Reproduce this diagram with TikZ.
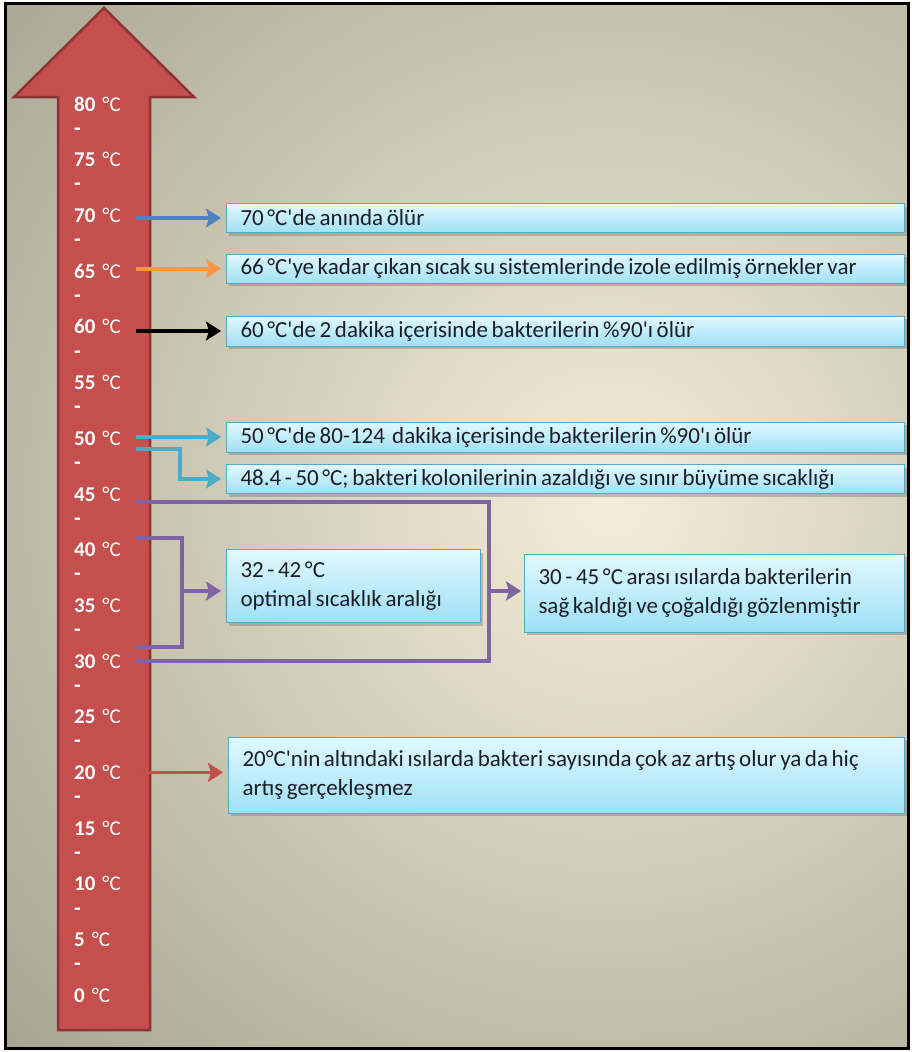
\documentclass[tikz,border=0pt]{standalone}
\usepackage{fontspec}
\setmainfont{Carlito}
\usetikzlibrary{arrows.meta,shadows,calc}
\definecolor{bgin}{RGB}{244,238,216}
\definecolor{bgout}{RGB}{150,148,130}
\definecolor{thermo}{RGB}{196,79,76}
\definecolor{thermoedge}{RGB}{140,52,50}
\definecolor{boxtop}{RGB}{226,249,255}
\definecolor{boxbot}{RGB}{158,224,246}
\definecolor{boxedge}{RGB}{86,168,196}
\definecolor{txt}{RGB}{28,30,38}
\definecolor{cblue}{RGB}{79,129,189}
\definecolor{corange}{RGB}{247,150,70}
\definecolor{cteal}{RGB}{75,172,198}
\definecolor{cpurple}{RGB}{128,100,162}
\definecolor{cred}{RGB}{192,80,77}
\tikzset{
  templbl/.style={anchor=west, text width=60pt, inner sep=2pt, text=white, font=\fontsize{21}{22}\selectfont, align=left},
  tickmark/.style={anchor=west, inner sep=2pt, text=white, font=\fontsize{22}{22}\selectfont\bfseries},
  infobox/.style={anchor=west, draw=boxedge, line width=1pt, top color=boxtop, bottom color=boxbot,
    drop shadow={shadow xshift=2pt, shadow yshift=-3pt, opacity=0.45},
    inner xsep=14pt, inner ysep=0pt, align=left, text=txt, font=\fontsize{23}{29.5}\selectfont,
    execute at begin node={\spaceskip=3.6pt plus 1pt minus 0.5pt\relax}},
  conn/.style={line width=4pt, -{Stealth[length=15pt,width=19pt,inset=3pt]}},
  plainline/.style={line width=4pt}
}
\begin{document}
\begin{tikzpicture}[x=1pt,y=-1pt]
\useasboundingbox (0,0) rectangle (912,1052);
\fill[white] (0,0) rectangle (912,1052);
\begin{scope}
\clip (5,3) rectangle (908,1048);
\shade[inner color=bgin, outer color=bgout] (610,500) circle (1000);
\end{scope}
\draw[line width=3pt] (5,3) rectangle (908,1048);
% thermometer arrow
\filldraw[fill=thermo, draw=thermoedge, line width=2.5pt, line join=miter]
  (58,1030) -- (58,97) -- (14,97) -- (104,8) -- (194,97) -- (150,97) -- (150,1030) -- cycle;
% temperature labels
\foreach \t [count=\i from 0] in {80,75,70,65,60,55,50,45,40,35,30,25,20,15,10,5,0} {
  \node[templbl] (t\t) at (72,{104+\i*55.7}) {\textbf{\t} °C};
}
\foreach \i in {0,...,15} {
  \node[tickmark] (d\i) at (72,{131.5+\i*55.7}) {-};
}
% boxes
\node[infobox, text width=650pt, minimum height=29pt] (b70) at (226,218) {70 °C\textquotesingle de anında ölür};
\node[infobox, text width=650pt, minimum height=29pt] (b66) at (226,268.5) {66 °C\textquotesingle ye kadar çıkan sıcak su sistemlerinde izole edilmiş örnekler var};
\node[infobox, text width=650pt, minimum height=30pt] (b60) at (226,331) {60 °C\textquotesingle de 2 dakika içerisinde bakterilerin \%90\textquotesingle ı ölür};
\node[infobox, text width=650pt, minimum height=30pt] (b50) at (226,437) {50 °C\textquotesingle de 80-124\ \ dakika içerisinde bakterilerin \%90\textquotesingle ı ölür};
\node[infobox, text width=650pt, minimum height=29pt] (b48) at (226,479) {48.4 - 50 °C; bakteri kolonilerinin azaldığı ve sınır büyüme sıcaklığı};
\node[infobox, text width=226pt, minimum height=73pt] (b32) at (226,586) {32 - 42 °C\\optimal sıcaklık aralığı};
\node[infobox, text width=352pt, minimum height=78pt] (b30) at (524,593) {30 - 45 °C arası ısılarda bakterilerin\\sağ kaldığı ve çoğaldığı gözlenmiştir};
\node[infobox, text width=648pt, minimum height=76pt] (b20) at (228,775) {20°C\textquotesingle nin altındaki ısılarda bakteri sayısında çok az artış olur ya da hiç\\artış gerçekleşmez};
% connectors
\draw[conn, cblue, shorten >=5pt] (t70.east |- b70.west) -- (b70.west);
\draw[conn, corange, shorten >=5pt] (t65.east |- b66.west) -- (b66.west);
\draw[conn, black, shorten >=5pt] (t60.east |- b60.west) -- (b60.west);
\draw[conn, cteal, shorten >=5pt] (t50.east |- b50.west) -- (b50.west);
\coordinate (k50) at (180,479);
\draw[conn, cteal, shorten >=5pt] ([yshift=-11pt]t50.east) -| (k50) -- (b48.west);
\coordinate (vl) at (182,591);
\coordinate (vr) at (489,591);
\draw[plainline, cpurple] ([yshift=-8pt]t45.east) -| (vr) |- (t30.east);
\draw[plainline, cpurple] ([yshift=12pt]t40.east) -| (vl) |- ([yshift=14pt]t30.east);
\draw[conn, cpurple, shorten >=5pt] (vl) -- (b32.west |- vl);
\draw[conn, cpurple, shorten >=3pt] (vr) -- (b30.west |- vr);
\draw[conn, cred, line width=3pt, shorten >=5pt] (t20.east) -- (t20.east -| b20.west);
\end{tikzpicture}
\end{document}
